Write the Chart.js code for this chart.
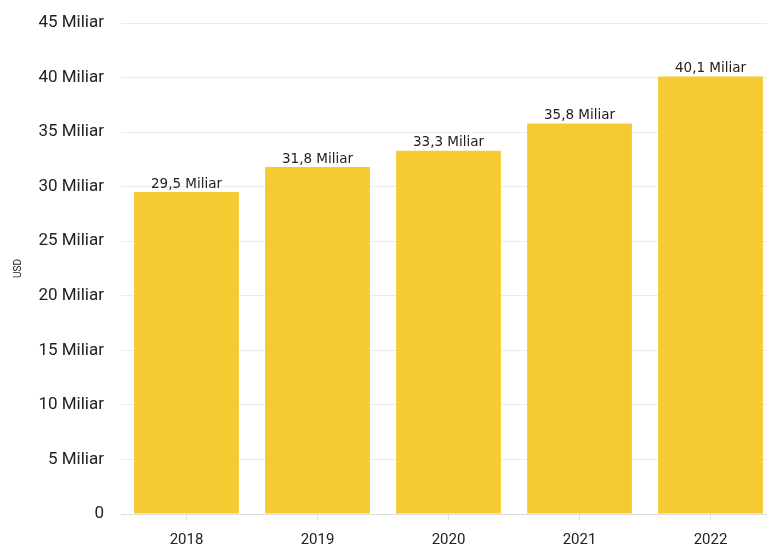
<!DOCTYPE html>
<html lang="id">
  <head>
    <meta charset="UTF-8" />
    <title>Pendapatan USD</title>
    <script src="https://cdn.jsdelivr.net/npm/chart.js"></script>
    <style>
      html, body { margin: 0; padding: 0; background: #fff; overflow: hidden; }
      #wrap { width: 776px; height: 546px; position: relative; }
    </style>
  </head>
  <body>
    <div id="wrap"><canvas id="barChart"></canvas></div>

    <script>
      // Data
      const tahun = ["2018", "2019", "2020", "2021", "2022"];
      const nilai = [29.5, 31.8, 33.3, 35.8, 40.1]; // miliar USD
      const labelNilai = ["29,5 Miliar", "31,8 Miliar", "33,3 Miliar", "35,8 Miliar", "40,1 Miliar"];

      // Plugin sederhana untuk label di atas batang
      const labelAtas = {
        id: "labelAtas",
        afterDatasetsDraw(chart) {
          const ctx = chart.ctx;
          const meta = chart.getDatasetMeta(0);
          ctx.save();
          ctx.font = "13.5px 'DejaVu Sans'";
          ctx.fillStyle = "#222";
          ctx.textAlign = "center";
          ctx.textBaseline = "bottom";
          meta.data.forEach((bar, i) => {
            ctx.fillText(labelNilai[i], bar.x, bar.y - 1);
          });
          ctx.restore();
        },
      };

      const ctx = document.getElementById("barChart").getContext("2d");
      new Chart(ctx, {
        type: "bar",
        data: {
          labels: tahun,
          datasets: [
            {
              label: "USD",
              data: nilai,
              backgroundColor: "#F5CA33",
              categoryPercentage: 0.8,
              barPercentage: 1.0,
            },
          ],
        },
        options: {
          responsive: true,
          maintainAspectRatio: false,
          animation: false,
          layout: { padding: { top: 23, right: 0, bottom: 0, left: 0 } },
          plugins: {
            legend: { display: false },
            tooltip: { enabled: false },
          },
          scales: {
            x: {
              grid: {
                drawOnChartArea: false,
                offset: false,
                drawTicks: true,
                tickLength: 6,
                color: "#dddddd",
              },
              border: { color: "#dddddd" },
              ticks: {
                color: "#222",
                font: { family: "Roboto", size: 15 },
                padding: 11,
              },
              afterFit(scale) { scale.height = 32; },
            },
            y: {
              min: 0,
              max: 45,
              ticks: {
                stepSize: 5,
                color: "#222",
                font: { family: "Roboto", size: 17 },
                padding: 17,
                callback: (v) => (v === 0 ? "0" : v + " Miliar"),
              },
              grid: { color: "#ebebeb", drawTicks: false },
              border: { display: false },
              title: {
                display: true,
                text: "USD",
                color: "#222",
                font: { family: "Roboto", size: 10 },
                padding: { top: 12, bottom: 0 },
              },
              afterFit(scale) {
                scale.width = 121;
                scale.paddingTop = 0;
                scale.paddingBottom = 0;
              },
            },
          },
        },
        plugins: [labelAtas],
      });
    </script>
  </body>
</html>
